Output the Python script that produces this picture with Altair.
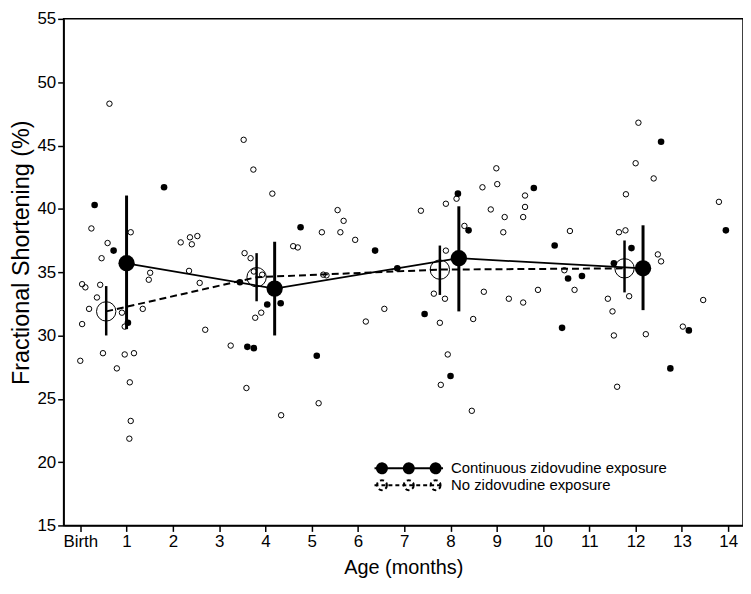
import altair as alt
import pandas as pd

# ---- data ----
open_x = [0.63, 0.24, 1.09, 0.59, 0.46, 2.17, 2.37, 2.53, 2.41, 1.51, 1.48, 2.35, 2.58, 0.04, 0.11, 0.43,
          0.36, 0.19, 1.35, 0.90, 0.04, 0.96, 2.70, 0.00, 0.49, 0.96, 1.16, 0.79, 1.07, 1.09, 1.06,
          3.25, 3.53, 3.74, 4.15, 3.55, 3.68, 3.75, 3.93, 5.56, 5.69, 5.22, 5.62, 5.94, 4.60, 4.70,
          5.25, 5.32, 3.91, 3.78, 6.57, 6.17, 3.59, 5.15, 4.34,
          7.36, 7.90, 8.13, 8.69, 8.99, 9.01, 8.87, 8.30, 7.90, 7.64, 7.88, 8.72, 7.77, 8.49, 7.94, 7.79, 8.46,
          9.61, 9.61, 9.57, 9.17, 9.14, 9.26, 9.57, 9.89, 10.58, 10.46, 10.68, 11.79, 11.64, 11.78, 11.86,
          11.40, 11.50, 11.53, 11.60, 12.06, 12.00, 12.39, 12.48, 12.55, 12.22, 13.02, 13.46, 13.80]
open_y = [48.3, 38.45, 38.15, 37.3, 36.1, 37.35, 37.75, 37.85, 37.2, 34.95, 34.4, 35.1, 34.15, 34.05, 33.8, 34.0,
          33.0, 32.1, 32.1, 31.8, 30.9, 30.7, 30.45, 28.0, 28.6, 28.5, 28.6, 27.4, 26.3, 23.25, 21.85,
          29.2, 45.45, 43.1, 41.2, 36.5, 36.1, 35.05, 34.8, 39.9, 39.05, 38.15, 38.15, 37.55, 37.05, 36.95,
          34.8, 34.75, 31.8, 31.4, 32.1, 31.1, 25.85, 24.65, 23.7,
          39.85, 40.4, 40.8, 41.7, 43.2, 41.95, 39.95, 38.65, 36.7, 33.3, 32.9, 33.45, 31.0, 31.3, 28.5, 26.1, 24.05,
          41.05, 40.15, 39.35, 39.35, 38.15, 32.9, 32.6, 33.6, 38.25, 35.15, 33.6, 41.15, 38.15, 38.3, 33.1,
          32.9, 31.9, 30.0, 25.95, 46.8, 43.6, 42.4, 36.4, 35.85, 30.1, 30.7, 32.8, 40.55]

filled_x = [0.31, 1.81, 0.72, 1.03, 3.45, 3.61, 3.75, 4.76, 6.37, 6.85, 4.04, 4.33, 5.11, 7.44, 8.00,
            8.16, 8.39, 9.80, 10.25, 11.91, 11.53, 10.54, 10.84, 10.41, 12.55, 13.95, 13.15, 12.75]
filled_y = [40.3, 41.7, 36.7, 31.0, 34.2, 29.1, 29.0, 38.55, 36.7, 35.3, 32.45, 32.55, 28.4, 31.7, 26.8,
            41.2, 38.3, 41.65, 37.1, 36.9, 35.7, 34.5, 34.7, 30.6, 45.3, 38.3, 30.4, 27.4]

cont_x = [1.00, 4.20, 8.18, 12.16]
cont_mean = [35.7, 33.7, 36.1, 35.3]
cont_lo = [30.5, 30.0, 31.9, 32.0]
cont_hi = [41.05, 37.4, 40.2, 38.7]

no_x = [0.56, 3.81, 7.77, 11.76]
no_mean = [31.9, 34.6, 35.2, 35.3]
no_lo = [30.0, 32.7, 33.2, 33.4]
no_hi = [33.9, 36.5, 37.1, 37.5]

groups = ["Continuous zidovudine exposure", "No zidovudine exposure"]
x_tick_values = list(range(0, 15))
x_tick_labels = ["Birth"] + [str(v) for v in range(1, 15)]
y_tick_values = list(range(15, 56, 5))

FONT = "Liberation Sans"
W, H = 684, 510

xs = alt.Scale(domain=[-0.36, 14.32], nice=False, zero=False)
ys = alt.Scale(domain=[15, 55], nice=False, zero=False)

label_expr = "[" + ",".join("'" + s + "'" for s in x_tick_labels) + "][datum.value]"
x_enc = alt.X("x:Q", scale=xs, title="Age (months)",
              axis=alt.Axis(values=x_tick_values, labelExpr=label_expr, grid=False))
y_enc = alt.Y("y:Q", scale=ys, title="Fractional Shortening (%)",
              axis=alt.Axis(values=y_tick_values, grid=False, titleY=235))

open_df = pd.DataFrame({"x": open_x, "y": open_y})
filled_df = pd.DataFrame({"x": filled_x, "y": filled_y})
cont_df = pd.DataFrame({"x": cont_x, "y": cont_mean, "lo": cont_lo, "hi": cont_hi})
no_df = pd.DataFrame({"x": no_x, "y": no_mean, "lo": no_lo, "hi": no_hi})
leg_df = pd.DataFrame({"g": groups})

open_pts = alt.Chart(open_df).mark_point(shape="circle", filled=False, size=30, strokeWidth=1,
                                         color="black", opacity=1).encode(x=x_enc, y=y_enc)
filled_pts = alt.Chart(filled_df).mark_circle(size=44, color="black", opacity=1).encode(x=x_enc, y=y_enc)

no_line = alt.Chart(no_df).mark_line(color="black", strokeWidth=2, strokeDash=[7, 4]).encode(x=x_enc, y=y_enc)
cont_line = alt.Chart(cont_df).mark_line(color="black", strokeWidth=1.8).encode(x=x_enc, y=y_enc)

no_bars = alt.Chart(no_df).mark_rule(color="black", strokeWidth=2.5).encode(x=x_enc, y="lo:Q", y2="hi:Q")
cont_bars = alt.Chart(cont_df).mark_rule(color="black", strokeWidth=3).encode(x=x_enc, y="lo:Q", y2="hi:Q")

no_means = alt.Chart(no_df).mark_point(shape="circle", filled=False, size=380, strokeWidth=1,
                                       color="black", opacity=1).encode(x=x_enc, y=y_enc)
cont_means = alt.Chart(cont_df).mark_circle(size=270, color="black", opacity=1).encode(x=x_enc, y=y_enc)

LEG_PATH = ("M-6.9,0L6.9,0"
            "M-4.4,0A1,1 0 1,1 -6.4,0A1,1 0 1,1 -4.4,0Z"
            "M1,0A1,1 0 1,1 -1,0A1,1 0 1,1 1,0Z"
            "M6.4,0A1,1 0 1,1 4.4,0A1,1 0 1,1 6.4,0Z")

legend = alt.Legend(orient="none", legendX=340, legendY=445, title=None, padding=0,
                    labelFont=FONT, labelFontSize=15, labelColor="black", labelOffset=35,
                    symbolSize=100, symbolStrokeWidth=2, symbolStrokeColor="black",
                    rowPadding=-3, labelLimit=400)

leg = alt.Chart(leg_df).transform_filter("false").mark_point(
    shape=LEG_PATH, size=100, stroke="black", color="black", strokeWidth=2, opacity=1
).encode(
    x=x_enc, y=alt.Y("y:Q", scale=ys),
    fill=alt.Fill("g:N", scale=alt.Scale(domain=groups, range=["black", "white"]), legend=legend),
    strokeDash=alt.StrokeDash("g:N", scale=alt.Scale(domain=groups, range=[[1, 0], [4, 3]]), legend=legend),
).transform_calculate(x="0", y="20")

chart = alt.layer(
    open_pts, filled_pts, no_line, cont_line, no_bars, cont_bars, no_means, cont_means, leg
).properties(
    width=W, height=H, padding={"left": 2, "top": 0, "right": 0, "bottom": 0}
).configure_view(
    stroke="black", strokeWidth=1.5
).configure_axis(
    labelFont=FONT, titleFont=FONT, labelFontSize=17,
    labelColor="black", titleColor="black", titleFontWeight="normal",
    domainColor="black", domainWidth=1.5, tickColor="black", tickWidth=1.5, tickSize=6,
    labelPadding=2
).configure_axisY(
    titlePadding=3, titleFontSize=23.5
).configure_axisX(
    titlePadding=8, titleFontSize=20
)

chart.save("out.html", embed_options={"renderer": "svg", "actions": False})
